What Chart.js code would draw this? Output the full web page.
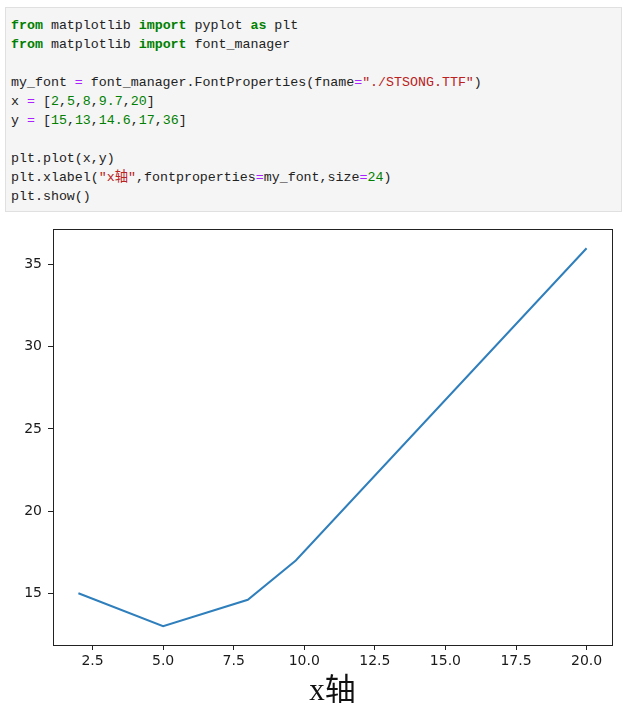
<!DOCTYPE html>
<html>
<head>
<meta charset="utf-8">
<script src="https://cdn.jsdelivr.net/npm/chart.js@4"></script>
<style>
  html, body { margin: 0; padding: 0; background: #fff; }
  body { width: 623px; height: 715px; position: relative; overflow: hidden; }
  .code {
    position: absolute; left: 5px; top: 7px; width: 617px; height: 205px;
    background: #f5f5f5; border: 1px solid #e0e0e0; box-sizing: border-box;
    padding: 8px 0 0 5px;
    font-family: "Liberation Mono", "Noto Sans CJK SC", monospace;
    font-size: 13.3px; line-height: 19px; color: #222; white-space: pre;
  }
  .k { color: #008000; font-weight: bold; }
  .o { color: #aa22ff; }
  .s { color: #ba2121; }
  .n { color: #008000; }
  .plot { position: absolute; left: 0; top: 215px; width: 623px; height: 500px; }
</style>
</head>
<body>
<div class="code"><span class="k">from</span> matplotlib <span class="k">import</span> pyplot <span class="k">as</span> plt
<span class="k">from</span> matplotlib <span class="k">import</span> font_manager

my_font <span class="o">=</span> font_manager.FontProperties(fname<span class="o">=</span><span class="s">"./STSONG.TTF"</span>)
x <span class="o">=</span> [<span class="n">2</span>,<span class="n">5</span>,<span class="n">8</span>,<span class="n">9.7</span>,<span class="n">20</span>]
y <span class="o">=</span> [<span class="n">15</span>,<span class="n">13</span>,<span class="n">14.6</span>,<span class="n">17</span>,<span class="n">36</span>]

plt.plot(x,y)
plt.xlabel(<span class="s">"x轴"</span>,fontproperties<span class="o">=</span>my_font,size<span class="o">=</span><span class="n">24</span>)
plt.show()</div>
<div class="plot"><canvas id="c"></canvas></div>
<script>
const xs = [2, 5, 8, 9.7, 20];
const ys = [15, 13, 14.6, 17, 36];
const xTicks = [2.5, 5, 7.5, 10, 12.5, 15, 17.5, 20];
const yTicks = [15, 20, 25, 30, 35];
const xLabel = 'x轴';

const tickFont = { family: 'DejaVu Sans', size: 14 };

// matplotlib-style box around the plot
const frame = {
  id: 'frame',
  afterDraw(chart) {
    const { ctx, chartArea: a } = chart;
    ctx.save();
    ctx.strokeStyle = '#222';
    ctx.lineWidth = 1;
    ctx.strokeRect(Math.round(a.left) + 0.5, Math.round(a.top) + 0.5,
      Math.round(a.right - a.left), Math.round(a.bottom - a.top));
    ctx.restore();
  }
};

new Chart(document.getElementById('c'), {
  type: 'line',
  data: {
    datasets: [{
      data: xs.map((v, i) => ({ x: v, y: ys[i] })),
      borderColor: '#2f7fbc',
      borderWidth: 2,
      pointRadius: 0,
      tension: 0,
      fill: false
    }]
  },
  options: {
    responsive: true,
    maintainAspectRatio: false,
    animation: false,
    events: [],
    layout: { padding: { top: 14, right: 11, left: 0, bottom: 0 } },
    plugins: { legend: { display: false }, tooltip: { enabled: false } },
    scales: {
      x: {
        type: 'linear',
        min: 1.1,
        max: 20.9,
        afterBuildTicks: s => { s.ticks = xTicks.map(v => ({ value: v })); },
        afterFit: s => { s.height = 70; },
        grid: { drawOnChartArea: false, drawTicks: true, tickLength: 5, color: '#222' },
        border: { display: true, color: '#222' },
        ticks: { font: tickFont, color: '#1a1a1a', padding: 3, maxRotation: 0,
          callback: v => v.toFixed(1) },
        title: { display: true, text: xLabel, color: '#111',
          font: { family: '"Liberation Serif", "Noto Sans CJK SC"', size: 31 },
          padding: { top: 0, bottom: 5 } }
      },
      y: {
        type: 'linear',
        min: 11.85,
        max: 37.15,
        afterBuildTicks: s => { s.ticks = yTicks.map(v => ({ value: v })); },
        afterFit: s => { s.width = 53; },
        grid: { drawOnChartArea: false, drawTicks: true, tickLength: 5, color: '#222' },
        border: { display: true, color: '#222' },
        ticks: { font: tickFont, color: '#1a1a1a', padding: 6 }
      }
    }
  },
  plugins: [frame]
});
</script>
</body>
</html>
